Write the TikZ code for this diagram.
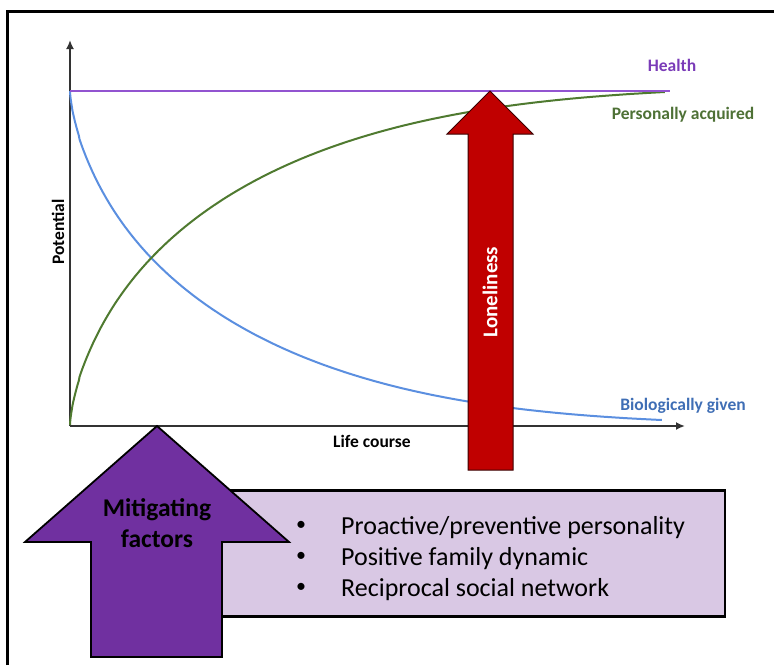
\documentclass[tikz,border=0pt]{standalone}
\usepackage{fontspec}
\setmainfont{Carlito}
\usetikzlibrary{arrows.meta}

\definecolor{healthline}{HTML}{9254D0}
\definecolor{healthtext}{HTML}{7A3BB8}
\definecolor{greenline}{HTML}{4F7A30}
\definecolor{greentext}{HTML}{4E7136}
\definecolor{blueline}{HTML}{5B8FE0}
\definecolor{bluetext}{HTML}{3F6EB5}
\definecolor{lonered}{HTML}{C00000}
\definecolor{mitpurple}{HTML}{7030A0}
\definecolor{boxfill}{HTML}{D9C8E4}

\tikzset{
  axisline/.style={line width=2pt, draw=black!80, -{Latex[length=9pt,width=8pt]}},
  curve/.style={line width=2pt},
  lbl/.style={font=\fontsize{17.5}{20}\selectfont\bfseries, inner sep=0pt},
  bigarrow/.style={line width=1.8pt, line join=miter},
  itemtxt/.style={font=\fontsize{26}{30}\selectfont, anchor=base west, inner sep=0pt},
  bullet/.style={font=\fontsize{20}{24}\selectfont, anchor=center, inner sep=0pt},
}

% share of the starting potential left at time s^2 (s runs 0..1)
\pgfmathdeclarefunction{decay}{1}{%
  \pgfmathparse{exp(-2.72*pow(#1,1.4)-1.48*pow(#1,4.6))}}

\begin{document}
\begin{tikzpicture}[x=1pt,y=-1pt]
\useasboundingbox (0,0) rectangle (774,665);

% outer frame (open to the right and bottom)
\coordinate (frameBL) at (7.5,665);
\coordinate (frameTL) at (7.5,11);
\coordinate (frameTR) at (774,11);
\draw[line width=3pt, line join=miter] (frameBL) -- (frameTL) -- (frameTR);

% list box, partly covered by the mitigating arrow
\node[draw=black, line width=2.5pt, fill=boxfill, minimum width=526pt, minimum height=126pt,
      inner sep=0pt, anchor=north east] (listbox) at (726,489) {};

% axes
\coordinate (origin) at (70,426);
\coordinate (ytop) at (70,40);
\coordinate (xend) at (685,426);
\draw[axisline] (origin) -- (ytop);
\draw[axisline] (origin) -- (xend);

% biologically given: decays from full potential
\draw[curve, blueline] (70,91) -- plot[domain=0.004:1, samples=220]
  ({70+592*\x*\x}, {425-334*decay(\x)});
% personally acquired: grows towards full potential
\draw[curve, greenline] (70,425) -- plot[domain=0.004:1, samples=220]
  ({70+595*\x*\x}, {91+334*(decay(\x)-0.012*\x*\x)});

% health line
\coordinate (hstart) at (70,91);
\coordinate (hend) at (670,91);
\draw[line width=2pt, healthline] (hstart) -- (hend);

% labels
\node[lbl, text=healthtext] (lhealth) at (672,65) {Health};
\node[lbl, text=greentext] (lpers) at (683,115) {Personally acquired};
\node[lbl, text=bluetext] (lbio) at (683,406) {Biologically given};
\node[lbl] (llife) at (372,441) {Life course};
\node[lbl, rotate=90] (lpot) at (58,232) {Potential};

% loneliness arrow
\draw[bigarrow, line width=1pt, draw=black!70!lonered, fill=lonered]
  (490,91) -- (533,134) -- (513,134) -- (513,470) -- (468,470) -- (468,134) -- (447,134) -- cycle;
\node[font=\fontsize{21}{24}\selectfont\bfseries, text=white, rotate=90, inner sep=0pt] (lone) at (490,292) {Loneliness};

% mitigating arrow
\draw[bigarrow, draw=black, fill=mitpurple]
  (157,426) -- (289,542) -- (222,542) -- (222,657) -- (91,657) -- (91,542) -- (25,542) -- cycle;
\node[font=\fontsize{25.5}{31}\selectfont\bfseries, align=center, inner sep=0pt, anchor=base]
  (mit) at (157,547) {Mitigating\\factors};

% list items
\node[bullet] (b1) at (301,526) {\textbullet};
\node[bullet] (b2) at (301,557) {\textbullet};
\node[bullet] (b3) at (301,588) {\textbullet};
\node[itemtxt] (i1) at (341,534) {Proactive/preventive personality};
\node[itemtxt] (i2) at (341,565) {Positive family dynamic};
\node[itemtxt] (i3) at (341,596) {Reciprocal social network};
\end{tikzpicture}
\end{document}
